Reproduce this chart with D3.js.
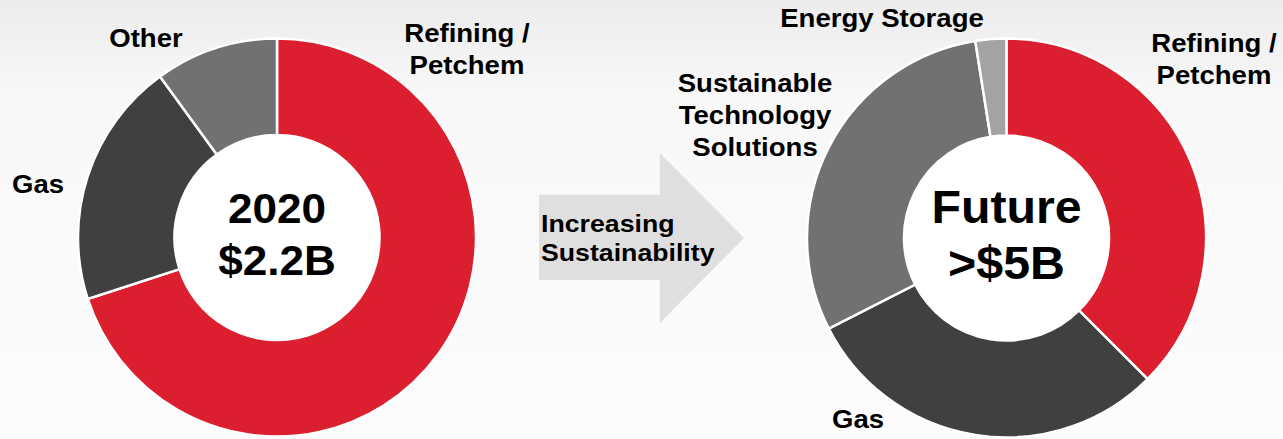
<!DOCTYPE html>
<html>
<head>
<meta charset="utf-8">
<script src="https://cdn.jsdelivr.net/npm/d3@7/dist/d3.min.js"></script>
<style>
  html, body { margin: 0; padding: 0; background: #fbfbfb; }
  svg { display: block; font-family: "Liberation Sans", Arial, sans-serif; font-weight: bold; }
  .lbl { font-size: 26px; fill: #000; }
</style>
</head>
<body>
<svg id="vis" width="1283" height="439"></svg>
<script>
// 2020 mix
var leftCats = ["Refining / Petchem", "Gas", "Other"];
var leftValues = [70, 20, 10];
var leftTitle = ["2020", "$2.2B"];

// future mix
var rightCats = ["Refining / Petchem", "Gas", "Sustainable Technology Solutions", "Energy Storage"];
var rightValues = [37.5, 30, 30, 2.5];
var rightTitle = ["Future", ">$5B"];

var arrowText = ["Increasing", "Sustainability"];

var colors = {
	"Refining / Petchem": "#dc1f2f",
	"Gas": "#404040",
	"Other": "#717171",
	"Sustainable Technology Solutions": "#717171",
	"Energy Storage": "#a3a3a3"
};

var svg = d3.select("#vis");

// soft background shading
var defs = svg.append("defs");
var grad = defs.append("linearGradient")
	.attr("id", "bg")
	.attr("x1", 0).attr("y1", 0).attr("x2", 0).attr("y2", 1);
grad.append("stop").attr("offset", "0%").attr("stop-color", "#ececec");
grad.append("stop").attr("offset", "22%").attr("stop-color", "#f8f8f8");
grad.append("stop").attr("offset", "100%").attr("stop-color", "#fcfcfc");
svg.append("rect")
	.attr("width", 1283)
	.attr("height", 439)
	.attr("fill", "url(#bg)");

function drawDonut(cx, cy, R, r, cats, values, title, titleSize, titleGap) {
	var pie = d3.pie().sort(null).value(d => d.v);
	var arc = d3.arc().innerRadius(r).outerRadius(R);
	var rows = cats.map((c, i) => ({ c: c, v: values[i] }));

	var g = svg.append("g").attr("transform", "translate(" + cx + "," + cy + ")");
	g.append("circle").attr("r", r).attr("fill", "#ffffff");
	g.selectAll("path")
		.data(pie(rows))
		.enter()
		.append("path")
		.attr("d", arc)
		.attr("fill", d => colors[d.data.c])
		.attr("stroke", "#ffffff")
		.attr("stroke-width", 2.5)
		.attr("stroke-linejoin", "miter");

	var t = g.append("text")
		.attr("text-anchor", "middle")
		.attr("font-size", titleSize)
		.attr("transform", "scale(1.05,1)");
	title.forEach((s, i) => {
		t.append("tspan")
		 .attr("x", 0)
		 .attr("y", -15 + i * titleGap)
		 .text(s);
	});
}

drawDonut(277, 237.5, 199, 102.5, leftCats, leftValues, leftTitle, 42, 52);
drawDonut(1006.5, 238, 199.5, 102.5, rightCats, rightValues, rightTitle, 46, 56);

// arrow
var ax = d3.scaleLinear().domain([0, 1]).range([539, 744]);
var ay = d3.scaleLinear().domain([0, 1]).range([153, 323]);
var arrowPts = [[0, 0.246], [0.589, 0.246], [0.589, 0], [1, 0.5], [0.589, 1], [0.589, 0.747], [0, 0.747]];
svg.append("path")
	.attr("d", d3.line().x(p => ax(p[0])).y(p => ay(p[1]))(arrowPts) + "Z")
	.attr("fill", "#dfdfdf");

var at = svg.append("text").attr("class", "lbl")
	.style("font-size", "24.5px")
	.attr("transform", "translate(541,0) scale(1.09,1)");
arrowText.forEach((s, i) => {
	at.append("tspan").attr("x", 0).attr("y", 232 + i * 29).text(s);
});

// category labels
var labelPos = [
	{ lines: ["Other"], x: 146, y: 47 },
	{ lines: ["Refining /", "Petchem"], x: 467, y: 42 },
	{ lines: ["Gas"], x: 38, y: 193 },
	{ lines: ["Energy Storage"], x: 882, y: 27 },
	{ lines: ["Sustainable", "Technology", "Solutions"], x: 755, y: 92 },
	{ lines: ["Refining /", "Petchem"], x: 1214, y: 52 },
	{ lines: ["Gas"], x: 858, y: 428 }
];

labelPos.forEach(p => {
	var t = svg.append("text")
		.attr("class", "lbl")
		.attr("text-anchor", "middle")
		.attr("transform", "translate(" + p.x + "," + p.y + ") scale(1.06,1)");
	p.lines.forEach((s, i) => {
		t.append("tspan").attr("x", 0).attr("y", i * 32).text(s);
	});
});
</script>
</body>
</html>
